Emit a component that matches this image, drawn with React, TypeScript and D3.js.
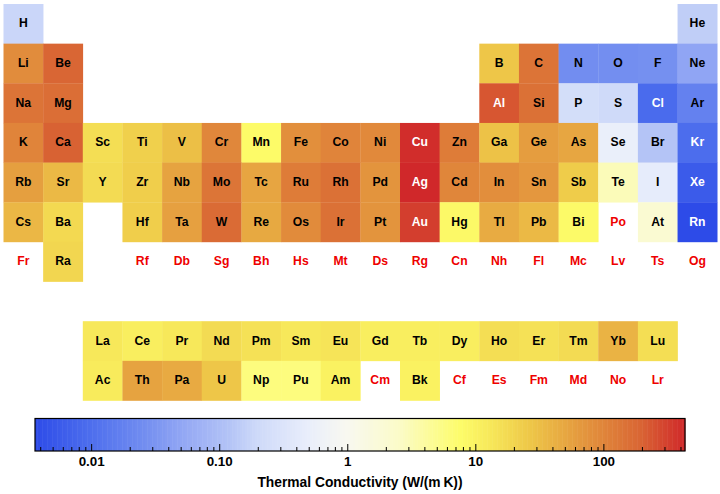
import React from "react";
import * as d3 from "d3";

// Element symbols by atomic number (1..118)
const symbols: string[] = [
  "H","He","Li","Be","B","C","N","O","F","Ne","Na","Mg","Al","Si","P","S","Cl","Ar",
  "K","Ca","Sc","Ti","V","Cr","Mn","Fe","Co","Ni","Cu","Zn","Ga","Ge","As","Se","Br","Kr",
  "Rb","Sr","Y","Zr","Nb","Mo","Tc","Ru","Rh","Pd","Ag","Cd","In","Sn","Sb","Te","I","Xe",
  "Cs","Ba","La","Ce","Pr","Nd","Pm","Sm","Eu","Gd","Tb","Dy","Ho","Er","Tm","Yb","Lu",
  "Hf","Ta","W","Re","Os","Ir","Pt","Au","Hg","Tl","Pb","Bi","Po","At","Rn",
  "Fr","Ra","Ac","Th","Pa","U","Np","Pu","Am","Cm","Bk","Cf","Es","Fm","Md","No","Lr",
  "Rf","Db","Sg","Bh","Hs","Mt","Ds","Rg","Cn","Nh","Fl","Mc","Lv","Ts","Og",
];

// Thermal conductivity W/(m K), by atomic number; null = no data
const conductivity: (number | null)[] = [
  0.1805, 0.1513, 85, 190, 27, 140, 0.02583, 0.02658, 0.0277, 0.0491,
  140, 160, 235, 150, 0.236, 0.205, 0.0089, 0.01772,
  100, 200, 16, 22, 31, 94, 7.8, 80, 100, 91, 400, 120, 29, 60, 50, 0.52, 0.12, 0.00943,
  58, 35, 17, 23, 54, 139, 51, 120, 150, 72, 430, 97, 82, 67, 24, 3, 0.449, 0.00565,
  36, 18, 13, 11, 13, 17, 15, 13, 14, 11, 11, 11, 16, 15, 17, 39, 16,
  23, 57, 170, 48, 88, 150, 72, 320, 8.3, 46, 35, 8, null, 2, 0.00361,
  null, 19, 12, 54, 47, 27, 6, 6, 10, null, 10, null, null, null, null, null, null,
  null, null, null, null, null, null, null, null, null, null, null, null, null, null, null,
];

const tickValues = [0.01, 0.1, 1, 10, 100];
const tickLabels = ["0.01", "0.10", "1", "10", "100"];
const colorDomain: [number, number] = [0.00361, 430];
const axisTitle = "Thermal Conductivity (W/(m\u2009K))";

// TemperatureMap-like gradient stops
const gradStops: [number, string][] = [
  [0.0, "rgb(45,75,232)"],
  [0.08, "rgb(75,108,237)"],
  [0.17, "rgb(115,142,240)"],
  [0.23, "rgb(148,168,244)"],
  [0.30, "rgb(180,196,246)"],
  [0.34, "rgb(205,217,249)"],
  [0.42, "rgb(233,238,251)"],
  [0.48, "rgb(248,248,240)"],
  [0.56, "rgb(251,251,200)"],
  [0.655, "rgb(253,252,105)"],
  [0.70, "rgb(247,232,90)"],
  [0.76, "rgb(238,200,72)"],
  [0.84, "rgb(228,152,62)"],
  [0.93, "rgb(217,102,52)"],
  [1.0, "rgb(208,40,42)"],
];

function position(z: number): [number, number] {
  // returns [row (1-based), col (1-based)]
  if (z === 1) return [1, 1];
  if (z === 2) return [1, 18];
  if (z <= 4) return [2, z - 2];
  if (z <= 10) return [2, z + 8];
  if (z <= 12) return [3, z - 10];
  if (z <= 18) return [3, z];
  if (z <= 36) return [4, z - 18];
  if (z <= 54) return [5, z - 36];
  if (z <= 56) return [6, z - 54];
  if (z <= 71) return [9, z - 54];
  if (z <= 86) return [6, z - 68];
  if (z <= 88) return [7, z - 86];
  if (z <= 103) return [10, z - 86];
  return [7, z - 100];
}

const W = 720;
const H = 494;
const FONT = "'Liberation Sans', Arial, Helvetica, sans-serif";

export default function App() {
  const cellW = 39.65;
  const cellH = 39.65;
  const x = d3.scaleLinear().domain([1, 19]).range([3.5, 3.5 + 18 * cellW]);
  const y = d3.scaleLinear().domain([1, 11]).range([4, 4 + 10 * cellH]);

  const tScale = d3.scaleLog().domain(colorDomain).range([0, 1]).clamp(true);
  const interp = d3
    .scaleLinear<string>()
    .domain(gradStops.map((s) => s[0]))
    .range(gradStops.map((s) => s[1]))
    .interpolate(d3.interpolateRgb)
    .clamp(true);
  const color = (v: number) => interp(tScale(v));

  const isDark = (c: string) => {
    const r = d3.rgb(c);
    return 0.299 * r.r + 0.587 * r.g + 0.114 * r.b < 126;
  };

  const barX0 = 35;
  const barX1 = 685;
  const barY0 = 418.5;
  const barY1 = 451;
  const xBar = d3.scaleLog().domain(colorDomain).range([barX0, barX1]);

  const minorTicks: number[] = [];
  for (let e = -3; e <= 2; e++) {
    for (let m = 1; m <= 9; m++) {
      const v = m * Math.pow(10, e);
      if (v >= colorDomain[0] && v <= colorDomain[1]) minorTicks.push(v);
    }
  }
  const isMajor = (v: number) => tickValues.some((t) => Math.abs(Math.log10(t) - Math.log10(v)) < 1e-6);

  const nSteps = 260;
  const gradRects = d3.range(nSteps).map((i) => {
    const t0 = i / nSteps;
    const t1 = (i + 1) / nSteps;
    return { x0: barX0 + t0 * (barX1 - barX0), x1: barX0 + t1 * (barX1 - barX0), c: interp((t0 + t1) / 2) };
  });

  return (
    <svg
      width={W}
      height={H}
      style={{ position: "absolute", left: 0, top: 0, background: "#fff", display: "block" }}
      fontFamily={FONT}
    >
      <rect x={0} y={0} width={W} height={H} fill="#fff" />
      {symbols.map((sym, i) => {
        const z = i + 1;
        const [row, col] = position(z);
        const v = conductivity[i];
        const x0 = x(col);
        const y0 = y(row);
        const fill = v == null ? null : color(v);
        const textFill = v == null ? "rgb(238,0,0)" : isDark(fill as string) ? "#fff" : "#000";
        return (
          <g key={sym}>
            {fill && (
              <rect x={x0} y={y0} width={cellW + 0.3} height={cellH + 0.3} fill={fill} />
            )}
            <text
              x={x0 + cellW / 2}
              y={y0 + cellH / 2 + 3.5}
              textAnchor="middle"
              fontSize={12.2}
              fontWeight="bold"
              fill={textFill}
            >
              {sym}
            </text>
          </g>
        );
      })}

      {gradRects.map((r, i) => (
        <rect key={i} x={r.x0} y={barY0} width={r.x1 - r.x0 + 0.4} height={barY1 - barY0} fill={r.c} />
      ))}
      <rect x={barX0} y={barY0} width={barX1 - barX0} height={barY1 - barY0} fill="none" stroke="#000" strokeWidth={1.2} />
      {minorTicks.map((v) => {
        const major = isMajor(v);
        const xx = xBar(v);
        return (
          <line key={v} x1={xx} x2={xx} y1={barY1} y2={barY1 - (major ? 7 : 4)} stroke="#000" strokeWidth={1} />
        );
      })}
      {tickValues.map((v, i) => (
        <text key={v} x={xBar(v)} y={466} textAnchor="middle" fontSize={13.4} fontWeight="bold" fill="#000">
          {tickLabels[i]}
        </text>
      ))}
      <text x={360} y={487} textAnchor="middle" fontSize={13.8} fontWeight="bold" fill="#000">
        {axisTitle}
      </text>
    </svg>
  );
}
